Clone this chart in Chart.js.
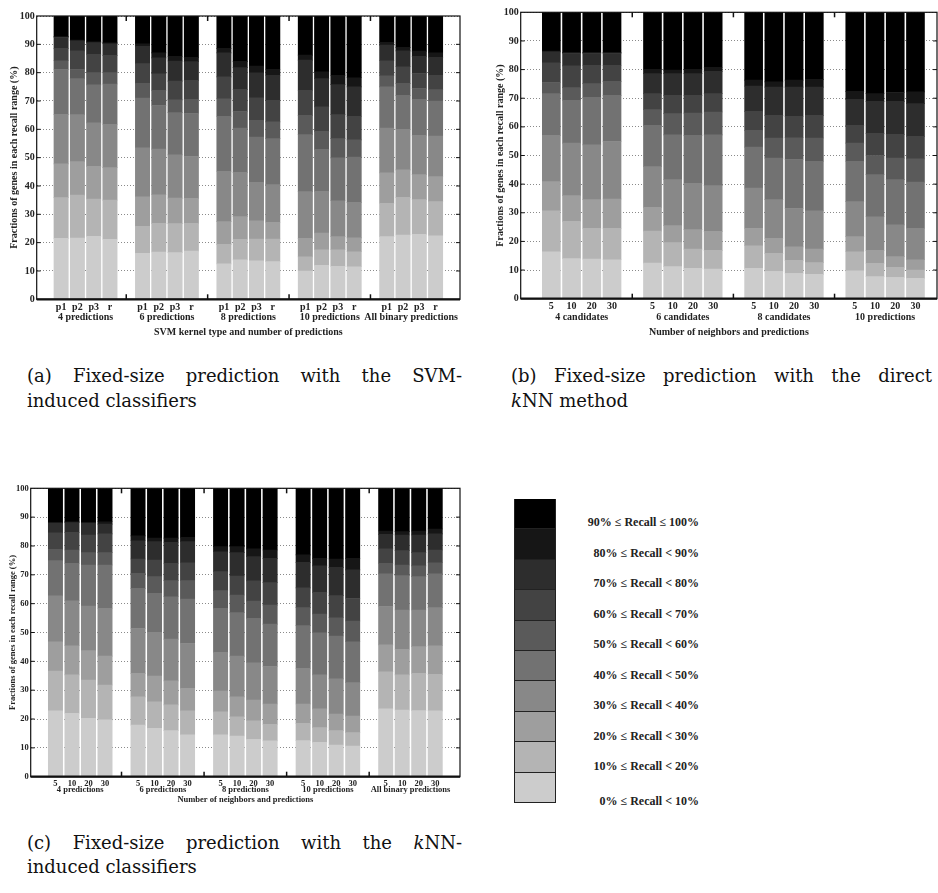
<!DOCTYPE html>
<html>
<head>
<meta charset="utf-8">
<script src="https://cdn.jsdelivr.net/npm/chart.js@4.4.1/dist/chart.umd.min.js"></script>
<style>
body { margin: 0; background: #fff; width: 938px; height: 893px; position: relative; overflow: hidden; font-family: "Liberation Serif", "DejaVu Serif", serif; }
canvas { position: absolute; }
.cap { position: absolute; font-family: "DejaVu Serif", serif; font-size: 18px; line-height: 25px; color: #111; white-space: nowrap; }
.cap.j { text-align: justify; text-align-last: justify; white-space: normal; }
#legendBox { position: absolute; left: 514px; top: 499px; width: 40px; border-left: 1.5px solid #222; border-right: 1.5px solid #222; }
#legendBox div { height: 29.4px; border-bottom: 1px solid #222; }
.lg { position: absolute; left: 540px; width: 159px; text-align: right; font-family: "Liberation Serif", serif; font-weight: bold; font-size: 12px; color: #222; white-space: nowrap; }
</style>
</head>
<body>
<canvas id="chartA" width="470" height="340" style="left:0;top:0"></canvas>
<canvas id="chartB" width="458" height="340" style="left:480px;top:0"></canvas>
<canvas id="chartC" width="470" height="326" style="left:0;top:480px"></canvas>
<div id="legendBox"></div>

<div class="cap j" style="left:27px;top:363px;width:435px">(a) Fixed-size prediction with the SVM-</div>
<div class="cap" style="left:27px;top:388px">induced classifiers</div>
<div class="cap j" style="left:511px;top:363px;width:421px">(b) Fixed-size prediction with the direct</div>
<div class="cap" style="left:511px;top:388px"><i>k</i>NN method</div>
<div class="cap j" style="left:27px;top:830px;width:435px">(c) Fixed-size prediction with the <i>k</i>NN-</div>
<div class="cap" style="left:27px;top:854px">induced classifiers</div>

<script>
const FONT = '"Liberation Serif", serif';

const rangeLabels = ['0% ≤ Recall < 10%', '10% ≤ Recall < 20%', '20% ≤ Recall < 30%', '30% ≤ Recall < 40%',
    '40% ≤ Recall < 50%', '50% ≤ Recall < 60%', '60% ≤ Recall < 70%', '70% ≤ Recall < 80%',
    '80% ≤ Recall < 90%', '90% ≤ Recall ≤ 100%'];
const greys = ['#cccccc', '#b4b4b4', '#9e9e9e', '#888888', '#727272', '#5a5a5a', '#434343', '#2d2d2d', '#161616', '#000000'];

// upper edge of each recall range (0-10 ... 80-90) per bar, in %
// (a) SVM-induced classifiers
const svmTicks = ['p1', 'p2', 'p3', 'r'];
const svmGroups = ['4 predictions', '6 predictions', '8 predictions', '10 predictions', 'All binary predictions'];
const svm4 = [[21.5, 35.9, 47.8, 65.3, 81.1, 84.2, 88.6, 92.4, 92.7],
    [21.6, 36.8, 48.6, 65.2, 77.9, 81.1, 87.7, 91.2, 91.5],
    [22.2, 35.4, 46.9, 62.3, 75.7, 80.0, 86.5, 90.6, 90.9],
    [21.2, 35.0, 46.5, 61.8, 76.0, 80.0, 86.1, 90.2, 90.5]];
const svm6 = [[16.2, 25.7, 36.2, 53.5, 71.0, 76.2, 83.2, 89.3, 90.2],
    [16.7, 26.8, 36.9, 53.0, 68.4, 73.8, 79.6, 85.2, 87.0],
    [16.5, 26.7, 35.7, 51.0, 65.9, 70.4, 77.0, 84.1, 85.8],
    [17.0, 26.8, 35.6, 50.4, 65.6, 70.6, 77.3, 83.9, 85.4]];
const svm8 = [[12.5, 19.4, 27.4, 45.2, 64.6, 70.8, 78.5, 87.0, 88.6],
    [13.9, 21.2, 29.2, 44.8, 60.4, 66.3, 74.1, 81.8, 84.0],
    [13.6, 21.3, 27.7, 41.3, 57.3, 63.2, 71.1, 79.9, 82.3],
    [13.3, 21.3, 27.2, 40.5, 56.7, 62.6, 70.2, 79.1, 81.2]];
const svm10 = [[10.0, 15.0, 21.5, 38.0, 58.1, 64.9, 73.8, 84.4, 86.2],
    [12.0, 17.5, 23.4, 38.1, 52.9, 59.3, 67.9, 77.9, 80.3],
    [11.6, 17.5, 22.1, 34.8, 49.9, 56.7, 65.2, 75.8, 79.1],
    [11.5, 16.8, 21.7, 34.2, 50.2, 56.3, 64.6, 75.0, 78.2]];
const svmAll = [[22.1, 33.9, 44.6, 60.4, 75.0, 78.9, 84.2, 89.7, 90.7],
    [22.7, 36.0, 45.7, 60.0, 72.0, 76.2, 82.1, 87.7, 88.9],
    [22.9, 35.2, 44.0, 57.9, 70.6, 74.4, 79.7, 85.8, 87.6],
    [22.4, 34.5, 43.3, 57.6, 70.0, 74.0, 79.1, 85.4, 87.0]];

// (b) direct kNN
const nbTicks = ['5', '10', '20', '30'];
const directGroups = ['4 candidates', '6 candidates', '8 candidates', '10 predictions'];
const direct4 = [[16.4, 30.7, 40.9, 57.0, 71.6, 75.5, 82.4, 86.2, 86.5],
    [14.0, 27.0, 36.0, 54.3, 69.3, 73.7, 81.3, 85.6, 86.0],
    [13.8, 24.5, 34.6, 53.7, 70.3, 75.1, 81.5, 85.6, 86.0],
    [13.6, 24.5, 34.8, 54.9, 71.0, 75.9, 81.5, 85.6, 86.0]];
const direct6 = [[12.4, 23.6, 31.9, 46.1, 60.5, 66.0, 71.6, 78.6, 80.1],
    [11.2, 19.6, 25.5, 41.6, 57.2, 64.6, 71.0, 78.6, 79.8],
    [10.6, 17.3, 24.1, 40.3, 57.0, 64.8, 71.0, 78.6, 80.1],
    [10.3, 16.9, 23.5, 39.5, 57.2, 65.2, 71.6, 79.4, 80.8]];
const direct8 = [[10.6, 18.5, 24.5, 38.6, 52.9, 58.8, 65.4, 74.2, 76.3],
    [9.5, 15.8, 21.1, 34.6, 49.1, 56.1, 64.0, 73.9, 75.7],
    [8.8, 13.4, 18.1, 31.5, 48.6, 56.2, 63.7, 73.9, 76.3],
    [8.5, 12.6, 17.3, 30.7, 48.0, 56.1, 64.0, 73.9, 76.6]];
const direct10 = [[9.7, 16.4, 21.7, 33.9, 48.0, 54.3, 60.5, 69.6, 72.4],
    [7.7, 12.3, 16.9, 28.6, 43.3, 50.0, 57.7, 68.9, 71.6],
    [7.4, 10.9, 14.7, 25.8, 41.6, 49.1, 57.4, 68.9, 72.0],
    [7.1, 10.0, 13.6, 24.6, 40.7, 48.8, 56.7, 68.1, 72.2]];

// (c) kNN-induced classifiers
const knnGroups = ['4 predictions', '6 predictions', '8 predictions', '10 predictions', 'All binary predictions'];
const knn4 = [[22.8, 36.6, 46.8, 62.7, 74.9, 78.8, 84.6, 87.9, 88.1],
    [22.0, 35.3, 45.4, 61.0, 74.0, 78.6, 84.7, 88.1, 88.4],
    [20.2, 33.5, 43.7, 59.2, 73.4, 77.7, 83.8, 87.9, 88.1],
    [19.7, 31.8, 41.8, 58.4, 73.4, 77.7, 84.2, 87.6, 88.4]];
const knn6 = [[17.9, 27.7, 35.8, 51.4, 65.3, 70.5, 75.5, 81.8, 83.5],
    [16.8, 26.0, 34.9, 50.1, 63.6, 69.4, 75.1, 81.5, 82.7],
    [16.0, 24.9, 33.2, 47.7, 62.4, 68.0, 74.0, 81.3, 82.7],
    [14.5, 22.8, 30.6, 46.2, 61.6, 68.0, 74.2, 81.5, 83.0]];
const knn8 = [[14.5, 22.5, 29.7, 43.1, 58.4, 64.5, 71.1, 78.0, 79.8],
    [14.1, 20.8, 27.7, 41.8, 56.9, 63.0, 69.6, 77.7, 79.8],
    [12.9, 19.4, 26.6, 39.5, 54.9, 60.9, 67.9, 76.3, 79.0],
    [12.4, 18.2, 25.2, 38.2, 52.9, 59.5, 67.3, 75.7, 78.6]];
const knn10 = [[12.5, 18.5, 25.2, 37.6, 52.4, 58.6, 65.5, 74.3, 76.9],
    [11.9, 17.0, 23.5, 35.3, 49.9, 56.4, 63.9, 73.1, 75.7],
    [11.0, 16.0, 21.7, 33.9, 48.8, 55.1, 62.8, 72.6, 75.5],
    [10.6, 15.3, 21.0, 32.6, 46.8, 54.0, 61.8, 71.7, 75.7]];
const knnAll = [[23.5, 36.4, 45.7, 59.0, 70.3, 74.0, 79.0, 84.0, 85.2],
    [23.1, 35.3, 44.2, 57.8, 69.7, 73.4, 78.4, 83.8, 85.0],
    [22.9, 35.8, 45.1, 57.8, 69.4, 73.1, 77.7, 83.8, 85.2],
    [22.8, 35.5, 45.4, 58.6, 70.3, 74.2, 78.6, 84.2, 85.9]];

// one dataset per recall range, bars at x = group*5 + i + 1 (slot group*5+5 left empty)
function buildDatasets(groups, barW) {
    return greys.map((col, k) => {
        const data = [];
        groups.forEach((g, gi) => g.forEach((b, i) => {
            const lo = k > 0 ? b[k - 1] : 0;
            const hi = k < 9 ? b[k] : 100;
            data.push({ x: gi * 5 + i + 1, y: +(hi - lo).toFixed(2) });
        }));
        return { label: rangeLabels[k], data: data, backgroundColor: col, borderWidth: 0, barThickness: barW };
    });
}

function drawChart(id, o) {
    const font = { family: FONT, weight: 'bold', size: o.fs };
    const framePlugin = {
        id: 'frame',
        afterDraw(chart) {
            const { ctx, chartArea: a } = chart;
            const x = chart.scales.x, y = chart.scales.y;
            const line = (x1, y1, x2, y2) => { ctx.beginPath(); ctx.moveTo(x1, y1); ctx.lineTo(x2, y2); ctx.stroke(); };
            ctx.save();
            ctx.strokeStyle = '#111';
            ctx.lineWidth = 1;
            for (let v = 10; v < 100; v += 10) {
                const py = y.getPixelForValue(v);
                line(a.left, py, a.left + 4, py);
                line(a.right - 4, py, a.right, py);
            }
            ctx.lineWidth = 1.5;
            for (let g = 1; g < o.groups.length; g++) {
                const px = x.getPixelForValue(g * 5);
                line(px, a.bottom, px, a.bottom - 5);
                line(px, a.top, px, a.top + 5);
            }
            ctx.lineWidth = 1.2;
            ctx.strokeRect(a.left, a.top, a.right - a.left, a.bottom - a.top);
            ctx.lineWidth = 2.2;
            line(a.left, a.bottom, a.right, a.bottom);
            ctx.fillStyle = '#222';
            ctx.font = 'bold ' + o.fs + 'px ' + FONT;
            ctx.textAlign = 'center';
            ctx.textBaseline = 'middle';
            o.groupNames.forEach((t, g) => ctx.fillText(t, x.getPixelForValue(g * 5 + 2.5), o.groupY));
            ctx.restore();
        }
    };
    new Chart(document.getElementById(id), {
        type: 'bar',
        data: { datasets: buildDatasets(o.groups, o.barW) },
        options: {
            responsive: false,
            animation: false,
            devicePixelRatio: 1,
            layout: { padding: { top: o.padTop, right: o.padRight, left: 0, bottom: 0 } },
            plugins: { legend: { display: false }, tooltip: { enabled: false } },
            scales: {
                x: {
                    type: 'linear', stacked: true, min: 0, max: o.xMax,
                    grid: { display: false, drawTicks: false },
                    border: { display: false },
                    ticks: {
                        stepSize: 1, autoSkip: false, includeBounds: false, maxRotation: 0, minRotation: 0,
                        padding: o.tickPad, color: '#222', font: font,
                        callback: v => {
                            if (!Number.isInteger(v) || v < 1) return '';
                            const g = Math.floor((v - 1) / 5), i = (v - 1) % 5;
                            return (i < 4 && g < o.groups.length) ? o.ticks[i] : '';
                        }
                    },
                    title: { display: true, text: o.xTitle, color: '#222', font: font, padding: { top: 0, bottom: o.xTitlePad } },
                    afterFit: s => { s.height = o.xH; }
                },
                y: {
                    stacked: true, min: 0, max: 100,
                    grid: { color: '#8a8a8a', lineWidth: 1, drawTicks: false },
                    border: { display: false, dash: [1, 2] },
                    ticks: { stepSize: 10, padding: 2, color: '#222', font: font },
                    title: { display: true, text: 'Fractions of genes in each recall range (%)', color: '#222', font: font, padding: { top: o.yTitlePad, bottom: 0 } },
                    afterFit: s => { s.width = o.yW; }
                }
            }
        },
        plugins: [framePlugin]
    });
}

drawChart('chartA', {
    groups: [svm4, svm6, svm8, svm10, svmAll], groupNames: svmGroups, ticks: svmTicks,
    xTitle: 'SVM kernel type and number of predictions',
    fs: 10, barW: 14.3, xMax: 25, padTop: 16, padRight: 10, yW: 36.7, xH: 40.7,
    tickPad: 2.5, xTitlePad: 2, yTitlePad: 8, groupY: 317
});
drawChart('chartB', {
    groups: [direct4, direct6, direct8, direct10], groupNames: directGroups, ticks: nbTicks,
    xTitle: 'Number of neighbors and predictions',
    fs: 10, barW: 18, xMax: 19.55, padTop: 12.3, padRight: 1, yW: 40.7, xH: 41.3,
    tickPad: 1.3, xTitlePad: 1.3, yTitlePad: 14, groupY: 317
});
drawChart('chartC', {
    groups: [knn4, knn6, knn8, knn10, knnAll], groupNames: knnGroups, ticks: nbTicks,
    xTitle: 'Number of neighbors and predictions',
    fs: 8.5, barW: 14.3, xMax: 25, padTop: 8.3, padRight: 10, yW: 30.7, xH: 29.3,
    tickPad: 2.2, xTitlePad: 1.6, yTitlePad: 7.6, groupY: 310
});

// legend: colour column, top = highest recall range
const box = document.getElementById('legendBox');
for (let k = 9; k >= 0; k--) {
    const cell = document.createElement('div');
    cell.style.background = greys[k];
    box.appendChild(cell);
    const lab = document.createElement('div');
    lab.className = 'lg';
    lab.textContent = rangeLabels[k];
    const cy = k > 0 ? 522 + (9 - k) * 30.5 : 801;
    lab.style.top = (cy - 7) + 'px';
    document.body.appendChild(lab);
}
</script>
</body>
</html>
